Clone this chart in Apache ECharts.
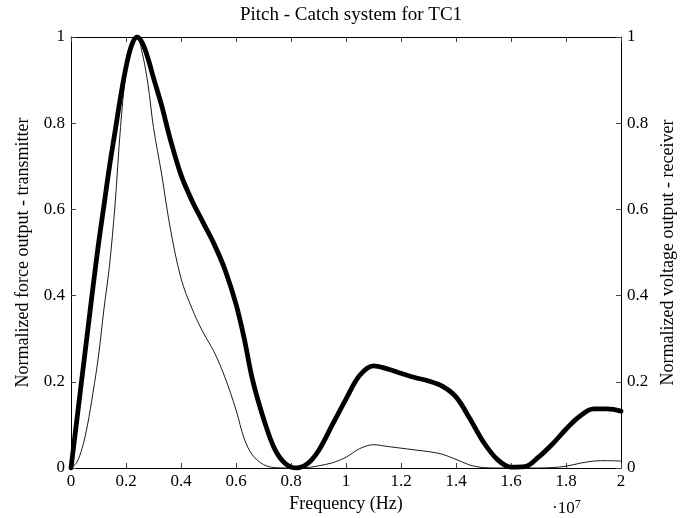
<!DOCTYPE html>
<html>
<head>
<meta charset="utf-8">
<script src="https://cdn.jsdelivr.net/npm/echarts@6/dist/echarts.min.js"></script>
<style>
html,body{margin:0;padding:0;background:#fff;}
#chart{width:686px;height:518px;}
</style>
</head>
<body>
<div id="chart"></div>
<script>
// Frequency in units of 1e7 Hz
const FREQ = [0, 0.02, 0.04, 0.06, 0.08, 0.10, 0.12, 0.14, 0.16, 0.18, 0.20, 0.22, 0.24, 0.26, 0.28, 0.30, 0.33, 0.36, 0.40, 0.44, 0.48, 0.52, 0.56, 0.60, 0.63, 0.66, 0.70, 0.74, 0.78, 0.82, 0.86, 0.90, 0.95, 1.00, 1.05, 1.10, 1.15, 1.20, 1.25, 1.30, 1.35, 1.40, 1.45, 1.50, 1.55, 1.60, 1.65, 1.70, 1.75, 1.80, 1.85, 1.90, 1.95, 2.00];
// Normalized force output - transmitter (thick)
const TRANSMITTER = [0, 0.105, 0.21, 0.315, 0.42, 0.52, 0.61, 0.70, 0.78, 0.86, 0.93, 0.98, 1.0, 0.985, 0.95, 0.905, 0.84, 0.765, 0.68, 0.62, 0.57, 0.52, 0.46, 0.38, 0.30, 0.205, 0.115, 0.045, 0.01, 0.0, 0.01, 0.04, 0.10, 0.16, 0.215, 0.237, 0.23, 0.22, 0.21, 0.202, 0.19, 0.165, 0.115, 0.06, 0.02, 0.002, 0.003, 0.025, 0.055, 0.09, 0.12, 0.137, 0.137, 0.132];
// Normalized voltage output - receiver (thin)
const RECEIVER = [0, 0.012, 0.045, 0.10, 0.175, 0.26, 0.37, 0.47, 0.61, 0.79, 0.92, 0.99, 1.0, 0.96, 0.89, 0.79, 0.68, 0.56, 0.44, 0.37, 0.315, 0.27, 0.21, 0.135, 0.068, 0.03, 0.008, 0.001, 0, 0, 0.001, 0.005, 0.012, 0.025, 0.045, 0.054, 0.05, 0.046, 0.042, 0.038, 0.032, 0.02, 0.007, 0.001, 0, 0, 0, 0, 0.001, 0.004, 0.011, 0.016, 0.017, 0.016];
const X_MIN = 0, X_MAX = 2, X_STEP = 0.2;
const Y_MIN = 0, Y_MAX = 1, Y_STEP = 0.2;

const FONT = 'Liberation Serif';
const fmt = v => String(+(+v).toFixed(1));

const chart = echarts.init(document.getElementById('chart'), null, {renderer: 'canvas'});
const tick = {show: true, inside: true, length: 5, lineStyle: {color: '#444', width: 1}};
const line = {show: true, onZero: false, lineStyle: {color: '#000', width: 1}};
const lab = {color: '#000', fontFamily: FONT, fontSize: 17};

chart.setOption({
  animation: false,
  backgroundColor: '#fff',
  title: {
    text: 'Pitch - Catch system for TC1',
    left: 346, top: 1, textAlign: 'center',
    textStyle: {fontFamily: FONT, fontSize: 19, fontWeight: 'normal', color: '#000'}
  },
  grid: {left: 71, right: 65, top: 37, bottom: 50, containLabel: false},
  xAxis: [{
    type: 'value', min: X_MIN, max: X_MAX, interval: X_STEP, position: 'bottom',
    axisLine: line, axisTick: tick, splitLine: {show: false},
    axisLabel: Object.assign({formatter: fmt, margin: 5}, lab),
    name: 'Frequency (Hz)', nameLocation: 'middle', nameGap: 26,
    nameTextStyle: {fontFamily: FONT, fontSize: 18, color: '#000'}
  }, {
    type: 'value', min: X_MIN, max: X_MAX, interval: X_STEP, position: 'top',
    axisLine: line, axisTick: tick, splitLine: {show: false},
    axisLabel: {show: false}
  }],
  yAxis: [{
    type: 'value', min: Y_MIN, max: Y_MAX, interval: Y_STEP, position: 'left',
    axisLine: line, axisTick: tick, splitLine: {show: false},
    axisLabel: Object.assign({formatter: fmt, margin: 6}, lab),
    name: 'Normalized force output - transmitter', nameLocation: 'middle', nameGap: 39, nameRotate: 90,
    nameTextStyle: {fontFamily: FONT, fontSize: 18, color: '#000'}
  }, {
    type: 'value', min: Y_MIN, max: Y_MAX, interval: Y_STEP, position: 'right',
    axisLine: line, axisTick: tick, splitLine: {show: false},
    axisLabel: Object.assign({formatter: fmt, margin: 6}, lab),
    name: 'Normalized voltage output - receiver', nameLocation: 'middle', nameGap: 28, nameRotate: 90,
    nameTextStyle: {fontFamily: FONT, fontSize: 18, color: '#000'}
  }],
  graphic: [{
    type: 'text', left: 552, top: 499,
    style: {
      text: '·10{s|7}',
      font: '17px "Liberation Serif"', fill: '#000',
      rich: {s: {fontSize: 12, fontFamily: FONT, verticalAlign: 'top', padding: [0, 0, 8, 0], fill: '#000'}}
    }
  }],
  series: [{
    type: 'line', name: 'transmitter', xAxisIndex: 0, yAxisIndex: 0,
    data: FREQ.map((f, i) => [f, TRANSMITTER[i]]),
    showSymbol: false, smooth: 0.35,
    lineStyle: {color: '#000', width: 4.8, cap: 'round', join: 'round'}
  }, {
    type: 'line', name: 'receiver', xAxisIndex: 0, yAxisIndex: 1,
    data: FREQ.map((f, i) => [f, RECEIVER[i]]),
    showSymbol: false, smooth: 0.35,
    lineStyle: {color: '#000', width: 0.9}
  }]
});
</script>
</body>
</html>
